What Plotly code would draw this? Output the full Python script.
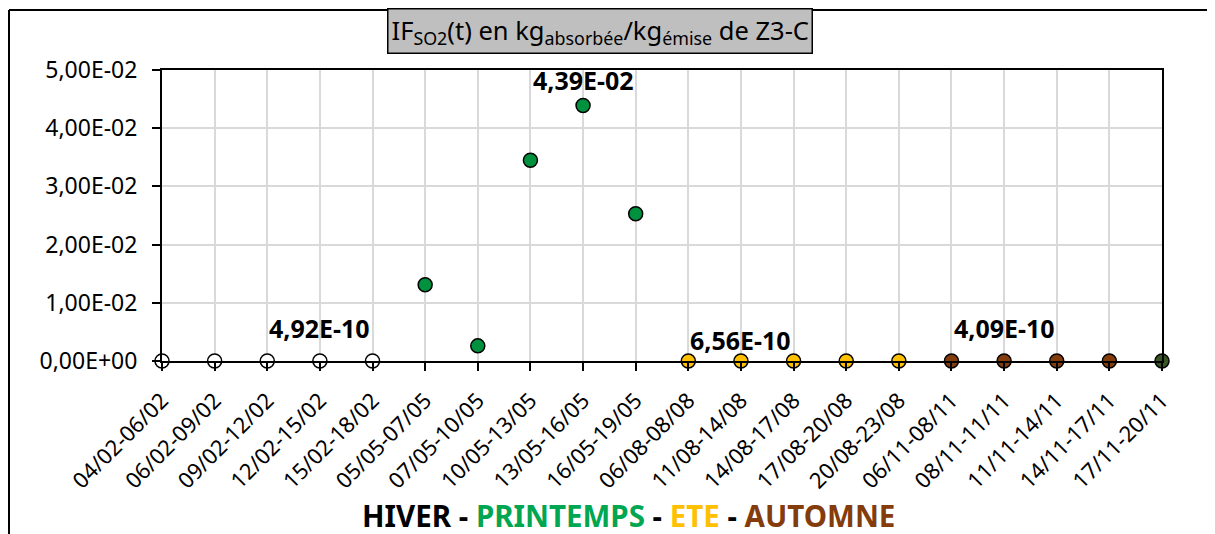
import plotly.graph_objects as go

categories = ["04/02-06/02", "06/02-09/02", "09/02-12/02", "12/02-15/02", "15/02-18/02",
              "05/05-07/05", "07/05-10/05", "10/05-13/05", "13/05-16/05", "16/05-19/05",
              "06/08-08/08", "11/08-14/08", "14/08-17/08", "17/08-20/08", "20/08-23/08",
              "06/11-08/11", "08/11-11/11", "11/11-14/11", "14/11-17/11", "17/11-20/11"]

hiver_vals = [0, 0, 0, 4.92e-10, 0]
printemps_vals = [1.31e-02, 2.6e-03, 3.45e-02, 4.39e-02, 2.53e-02]
ete_vals = [0, 6.56e-10, 0, 0, 0]
automne_vals = [0, 4.09e-10, 0, 0]
last_vals = [0]

y_ticks = [0, 0.01, 0.02, 0.03, 0.04, 0.05]
y_ticktext = ["0,00E+00", "1,00E-02", "2,00E-02", "3,00E-02", "4,00E-02", "5,00E-02"]

FONT = "Noto Sans"

series = [
    (categories[0:5], hiver_vals, "#FFFFFF"),
    (categories[5:10], printemps_vals, "#00913F"),
    (categories[10:15], ete_vals, "#FFC000"),
    (categories[15:19], automne_vals, "#843C0C"),
    (categories[19:20], last_vals, "#375623"),
]

fig = go.Figure()
for xs, ys, col in series:
    fig.add_trace(go.Scatter(
        x=xs, y=ys, mode="markers", cliponaxis=False, showlegend=False,
        marker=dict(size=14, color=col, line=dict(color="#000000", width=1.5)),
    ))

fig.update_layout(
    width=1207, height=526,
    margin=dict(l=154, r=53, t=62, b=173),
    paper_bgcolor="white", plot_bgcolor="white",
    font=dict(family=FONT, color="#000000"),
    xaxis=dict(
        type="category", categoryorder="array", categoryarray=categories,
        range=[0, len(categories) - 1],
        showgrid=True, gridcolor="#D9D9D9", gridwidth=1.5,
        showline=True, linecolor="#000000", linewidth=2, mirror=True,
        ticks="outside", ticklen=8, tickcolor="#000000", tickwidth=1.5,
        tickangle=-45, tickfont=dict(size=22, family=FONT),
        ticklabelstandoff=8,
        zeroline=False,
    ),
    yaxis=dict(
        range=[0, 0.05], tickvals=y_ticks, ticktext=y_ticktext,
        showgrid=True, gridcolor="#D9D9D9", gridwidth=1.5,
        showline=True, linecolor="#000000", linewidth=2, mirror=True,
        ticks="outside", ticklen=8, tickcolor="#000000", tickwidth=1.5,
        tickfont=dict(size=23, family=FONT), zeroline=False,
        ticklabelstandoff=10,
    ),
)

# data labels (above their points)
labels = [
    (3, 0.00567, "4,92E-10"),
    (11, 0.0036, "6,56E-10"),
    (16, 0.00567, "4,09E-10"),
    (8, 0.0483, "4,39E-02"),
]
for x, y, t in labels:
    fig.add_annotation(x=x, y=y, xref="x", yref="y", text="<b>%s</b>" % t,
                       showarrow=False, font=dict(size=25, family=FONT, color="#000000"),
                       xanchor="center", yanchor="middle")

def px(xp):
    return (xp - 162) / 1000

def py(yp):
    return (361 - yp) / 291

# title box
fig.add_annotation(
    x=px(600), y=py(31), xref="paper", yref="paper",
    text="IF<sub>SO2</sub>(t) en kg<sub>absorbée</sub>/kg<sub>émise</sub> de Z3-C",
    showarrow=False, xanchor="center", yanchor="middle",
    font=dict(size=25.5, family=FONT, color="#000000"),
    bgcolor="#BFBFBF", bordercolor="#000000", borderwidth=1.5, borderpad=3,
)

# season legend
fig.add_annotation(
    x=px(628), y=py(516), xref="paper", yref="paper",
    text=("<b><span style='color:#000000'>HIVER</span> - "
          "<span style='color:#00A651'>PRINTEMPS</span> - "
          "<span style='color:#FFC000'>ETE</span> - "
          "<span style='color:#843C0C'>AUTOMNE</span></b>"),
    showarrow=False, xanchor="center", yanchor="middle",
    font=dict(size=29.5, family=FONT, color="#000000"),
)

# outer chart border
fig.add_shape(type="line", xref="paper", yref="paper", x0=px(9), x1=px(1214), y0=py(10), y1=py(10),
              line=dict(color="#000000", width=2))
fig.add_shape(type="line", xref="paper", yref="paper", x0=px(9), x1=px(9), y0=py(10), y1=py(540),
              line=dict(color="#000000", width=2))
fig.add_shape(type="line", xref="paper", yref="paper", x0=px(1213), x1=px(1213), y0=py(10), y1=py(540),
              line=dict(color="#D9D9D9", width=1.5))

fig.write_html("out.html")
